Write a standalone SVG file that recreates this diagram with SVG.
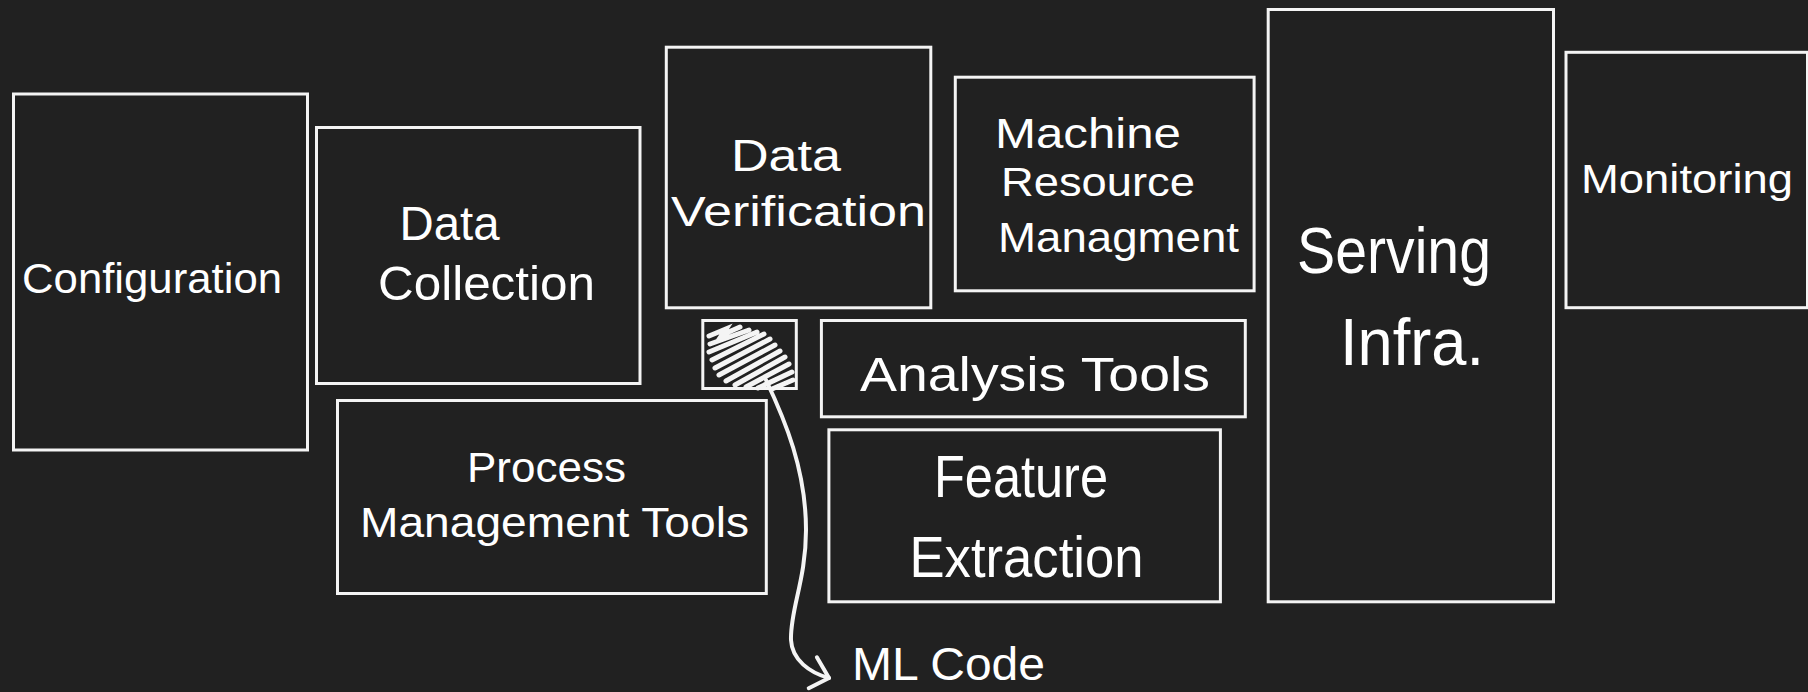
<svg xmlns="http://www.w3.org/2000/svg" width="1808" height="692" viewBox="0 0 1808 692">
<style>
.box{fill:#212121;stroke:#f4f4f4;stroke-width:3}
.t{font-family:"Liberation Sans","DejaVu Sans",sans-serif;fill:#ffffff}
.scr{stroke:#f4f4f4;stroke-width:5;stroke-linecap:round;fill:none}
.conn{stroke:#f4f4f4;stroke-width:4;stroke-linecap:round;stroke-linejoin:round;fill:none}
</style>
<defs>
<marker id="arr" markerUnits="userSpaceOnUse" markerWidth="40" markerHeight="40" refX="20" refY="20" orient="auto" viewBox="0 0 40 40">
<path d="M3 3 L20 20 L3 35" fill="none" stroke="#f4f4f4" stroke-width="4" stroke-linecap="round" stroke-linejoin="round"/>
</marker>
</defs>
<rect width="1808" height="692" fill="#212121"/>

<g id="configuration">
<rect class="box" x="13.5" y="94" width="294" height="356"/>
<text class="t" x="22" y="293" font-size="42" textLength="260" lengthAdjust="spacingAndGlyphs">Configuration</text>
</g>

<g id="data-collection">
<rect class="box" x="316.5" y="127.5" width="323.5" height="256"/>
<text class="t" x="399.5" y="240" font-size="48" textLength="100" lengthAdjust="spacingAndGlyphs">Data</text>
<text class="t" x="378" y="300" font-size="48" textLength="217" lengthAdjust="spacingAndGlyphs">Collection</text>
</g>

<g id="data-verification">
<rect class="box" x="666.3" y="47.2" width="264.5" height="260.6"/>
<text class="t" x="731" y="171" font-size="44" textLength="110" lengthAdjust="spacingAndGlyphs">Data</text>
<text class="t" x="671" y="226" font-size="42" textLength="255" lengthAdjust="spacingAndGlyphs">Verification</text>
</g>

<g id="machine-resource-management">
<rect class="box" x="955.3" y="77.2" width="298.8" height="213.6"/>
<text class="t" x="995" y="148" font-size="42" textLength="186" lengthAdjust="spacingAndGlyphs">Machine</text>
<text class="t" x="1001" y="196" font-size="40" textLength="194" lengthAdjust="spacingAndGlyphs">Resource</text>
<text class="t" x="998" y="252" font-size="42" textLength="241" lengthAdjust="spacingAndGlyphs">Managment</text>
</g>

<g id="serving-infra">
<rect class="box" x="1268.2" y="9.5" width="285.3" height="592.3"/>
<text class="t" x="1297" y="273" font-size="64" textLength="194" lengthAdjust="spacingAndGlyphs">Serving</text>
<text class="t" x="1340" y="365" font-size="66" textLength="144" lengthAdjust="spacingAndGlyphs">Infra.</text>
</g>

<g id="monitoring">
<rect class="box" x="1566" y="52.3" width="241.5" height="255.4"/>
<text class="t" x="1581" y="193" font-size="40" textLength="212" lengthAdjust="spacingAndGlyphs">Monitoring</text>
</g>

<g id="ml-code-box">
<rect class="box" x="702.8" y="320.5" width="93.5" height="68"/>
<path class="scr" d="M709 336 L726 329 L722 335 L740 327 M710 344 L749 330 M709 352 L757 332 M712 360 L764 334 M715 368 L770 339 M719 375 L775 345 M726 381 L780 351 M735 385 L785 357 M746 387 L789 364 M758 388 L792 372 M772 389 L793 380"/>
</g>

<g id="analysis-tools">
<rect class="box" x="821.4" y="320.5" width="423.9" height="96.3"/>
<text class="t" x="860" y="391" font-size="48" textLength="350" lengthAdjust="spacingAndGlyphs">Analysis Tools</text>
</g>

<g id="process-management-tools">
<rect class="box" x="337.5" y="400.5" width="428.8" height="193"/>
<text class="t" x="467" y="482" font-size="42" textLength="159" lengthAdjust="spacingAndGlyphs">Process</text>
<text class="t" x="360" y="537" font-size="42" textLength="389" lengthAdjust="spacingAndGlyphs">Management Tools</text>
</g>

<g id="feature-extraction">
<rect class="box" x="828.9" y="429.8" width="391.5" height="172"/>
<text class="t" x="934" y="497" font-size="60" textLength="174" lengthAdjust="spacingAndGlyphs">Feature</text>
<text class="t" x="909.5" y="577" font-size="58" textLength="234" lengthAdjust="spacingAndGlyphs">Extraction</text>
</g>

<g id="ml-code-label">
<text class="t" x="852" y="680" font-size="46" textLength="193" lengthAdjust="spacingAndGlyphs">ML Code</text>
</g>

<g id="connectors">
<path class="conn" d="M766 380 C785 420 806 470 806 530 C806 580 790 610 791 640 C792 660 810 673 829 678" marker-end="url(#arr)"/>
</g>
</svg>
